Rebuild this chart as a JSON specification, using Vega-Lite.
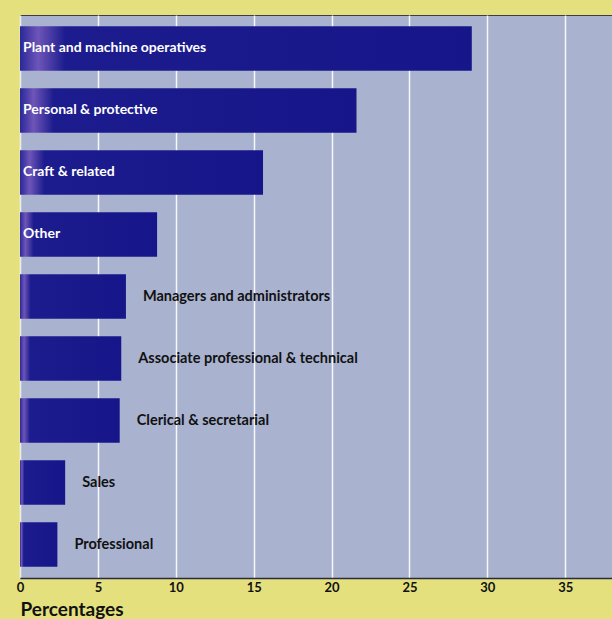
{
  "$schema": "https://vega.github.io/schema/vega-lite/v6.json",
  "width": 592,
  "height": 563,
  "autosize": {"type": "none"},
  "padding": {"left": 20, "top": 15, "right": 0, "bottom": 41},
  "background": "#e4e07e",
  "config": {
    "view": {"fill": "#a9b3d0", "stroke": "#3a3a4a", "strokeWidth": 1},
    "font": "Lato"
  },
  "data": {
    "values": [
      {"occupation": "Plant and machine operatives", "pct": 29.0},
      {"occupation": "Personal & protective", "pct": 21.6},
      {"occupation": "Craft & related", "pct": 15.6},
      {"occupation": "Other", "pct": 8.8},
      {"occupation": "Managers and administrators", "pct": 6.8},
      {"occupation": "Associate professional & technical", "pct": 6.5},
      {"occupation": "Clerical & secretarial", "pct": 6.4},
      {"occupation": "Sales", "pct": 2.9},
      {"occupation": "Professional", "pct": 2.4}
    ]
  },
  "encoding": {
    "y": {"field": "occupation", "type": "nominal", "sort": null, "axis": null,
          "scale": {"paddingInner": 0.28, "paddingOuter": 0.18}},
    "x": {"field": "pct", "type": "quantitative",
          "scale": {"domain": [0, 38], "nice": false},
          "axis": {
            "values": [0, 5, 10, 15, 20, 25, 30, 35],
            "grid": true, "gridColor": "#ffffff", "gridWidth": 1.5, "gridOpacity": 0.9,
            "ticks": false, "domain": true, "domainColor": "#2a2a3a", "domainWidth": 1.5,
            "labelFont": "Lato", "labelFontWeight": "bold", "labelFontSize": 13, "labelColor": "#111111",
            "labelPadding": 3, "labelFlush": false,
            "title": "Percentages", "titleFont": "Lato", "titleFontWeight": "bold", "titleFontSize": 19,
            "titleColor": "#111111", "titleAnchor": "start", "titleAlign": "left", "titleX": 0, "titleY": 37,
            "titleBaseline": "alphabetic"
          }}
  },
  "layer": [
    {
      "mark": {
        "type": "bar",
        "color": {
          "gradient": "linear", "x1": 0, "x2": 1, "y1": 0, "y2": 0,
          "stops": [
            {"offset": 0, "color": "#2a2898"},
            {"offset": 0.04, "color": "#6e55b8"},
            {"offset": 0.1, "color": "#1c1c8e"},
            {"offset": 1, "color": "#16168a"}
          ]
        }
      }
    },
    {
      "transform": [{"filter": "datum.pct > 8"}],
      "mark": {"type": "text", "align": "left", "baseline": "middle", "dx": 3,
               "font": "Lato", "fontWeight": "bold", "fontSize": 14, "color": "#ffffff"},
      "encoding": {"x": {"datum": 0, "type": "quantitative"}, "text": {"field": "occupation"}}
    },
    {
      "transform": [{"filter": "datum.pct <= 8"}],
      "mark": {"type": "text", "align": "left", "baseline": "middle", "dx": 17,
               "font": "Lato", "fontWeight": "bold", "fontSize": 14.5, "color": "#111111"},
      "encoding": {"text": {"field": "occupation"}}
    }
  ]
}
